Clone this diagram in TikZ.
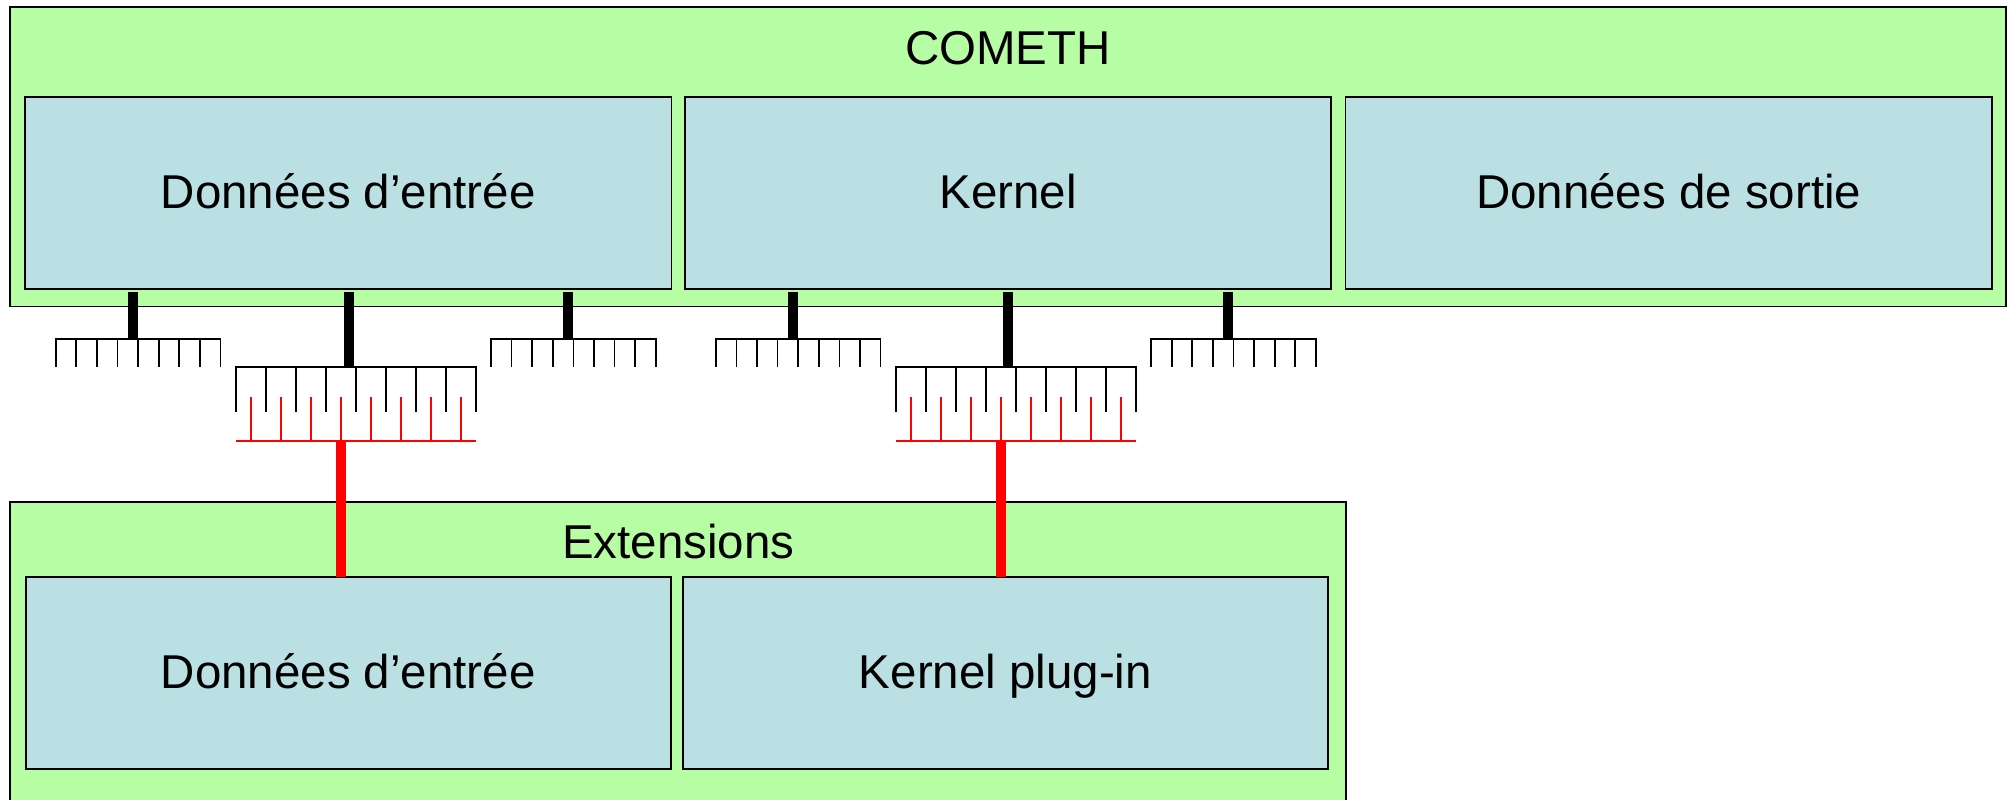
\documentclass[tikz,border=0pt]{standalone}
\usepackage{fontspec}
\setmainfont{Liberation Sans}
\definecolor{cgreen}{RGB}{182,253,163}
\definecolor{cblue}{RGB}{187,224,227}
\definecolor{cred}{RGB}{255,0,0}
\begin{document}
\begin{tikzpicture}[x=0.01cm, y=-0.01cm,
  frame/.style={draw=black, line width=0.5pt, inner sep=0pt, outer sep=0pt},
  outerbox/.style={frame, fill=cgreen},
  innerbox/.style={frame, fill=cblue, minimum width=6.46cm, minimum height=1.92cm,
    font=\fontsize{13.5pt}{16pt}\selectfont, text height=0.32cm, text depth=0pt},
  titletext/.style={inner sep=0pt, font=\fontsize{13.5pt}{16pt}\selectfont,
    text height=0.34cm, text depth=0pt},
  combline/.style={line width=0.5pt, black},
  redcombline/.style={line width=0.5pt, cred},
  blackbar/.style={line width=2.9pt, black},
  redbar/.style={line width=3pt, cred},
  smallcomb/.pic={
    \draw[combline] (0,27.7) -- (0,0) -- (164.8,0) -- (164.8,27.7);
    \foreach \k in {1,...,7} \draw[combline] (\k*20.6,0) -- (\k*20.6,27.7);
  },
  bigcomb/.pic={
    \draw[combline] (0,45) -- (0,0) -- (240,0) -- (240,45);
    \foreach \k in {1,...,7} \draw[combline] (\k*30,0) -- (\k*30,45);
    \draw[redcombline] (0,74) -- (240,74);
    \foreach \k in {0,...,7} \draw[redcombline] (15+\k*30,30) -- (15+\k*30,74);
  }
]
\useasboundingbox (0,0) rectangle (2010,799);
\begin{scope}
\clip (0,0) rectangle (2010,799);

% COMETH
\node[outerbox, minimum width=19.948cm, minimum height=2.996cm] (cometh) at (1008.1,156.5) {};
\node[titletext] (comethtitle) at (1008,47) {COMETH};
\node[innerbox] (cin) at (348.2,192.7) {Données d’entrée};
\node[innerbox] (ckern) at (1008,192.7) {Kernel};
\node[innerbox] (cout) at (1668.7,192.7) {Données de sortie};

% Extensions
\node[outerbox, minimum width=13.348cm, minimum height=3.3cm] (ext) at (678.1,667) {};
\node[titletext] (exttitle) at (678.3,541) {Extensions};
\node[innerbox, minimum width=6.446cm, minimum height=1.917cm] (ein) at (348.2,672.8) {Données d’entrée};
\node[innerbox, minimum width=6.447cm, minimum height=1.917cm] (eplug) at (1005.4,672.8) {Kernel plug-in};

% combs
\pic at (55.7,339) {smallcomb};
\pic at (491,339) {smallcomb};
\pic at (715.8,339) {smallcomb};
\pic at (1151,339) {smallcomb};
\pic at (236,367.3) {bigcomb};
\pic at (896,367.3) {bigcomb};

\coordinate (combA) at (133.3,339);
\coordinate (combC) at (568.3,339);
\coordinate (combD) at (793.2,339);
\coordinate (combF) at (1228,339);
\coordinate (combB) at (348.6,367.3);
\coordinate (combE) at (1008.3,367.3);
\coordinate (redB) at (341,441.3);
\coordinate (redE) at (1001,441.3);

% black bars
\draw[blackbar] ([yshift=-0.033cm]cin.south -| combA) -- (combA);
\draw[blackbar] ([yshift=-0.033cm]cin.south -| combB) -- (combB);
\draw[blackbar] ([yshift=-0.033cm]cin.south -| combC) -- (combC);
\draw[blackbar] ([yshift=-0.033cm]ckern.south -| combD) -- (combD);
\draw[blackbar] ([yshift=-0.033cm]ckern.south -| combE) -- (combE);
\draw[blackbar] ([yshift=-0.033cm]ckern.south -| combF) -- (combF);

% red bars
\draw[redbar] (redB) -- (redB |- ein.north);
\draw[redbar] (redE) -- (redE |- eplug.north);
\end{scope}
\end{tikzpicture}
\end{document}
